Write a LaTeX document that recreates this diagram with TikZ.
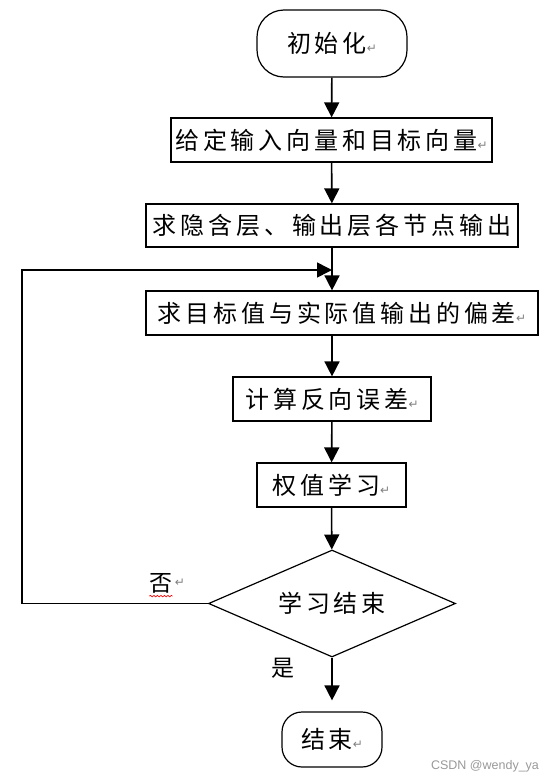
\documentclass[tikz,border=0pt]{standalone}
\usepackage{fontspec}
\setmainfont{Noto Sans CJK SC}
\newfontfamily\cjkspaced{Noto Sans CJK SC}[LetterSpace=16]
\newfontfamily\markfont{DejaVu Sans}
\newfontfamily\wmfont{Liberation Sans}
\usepackage{tikz}
\usetikzlibrary{arrows.meta,shapes.geometric,decorations.pathmorphing}
\newcommand{\pmark}{{\markfont\fontsize{12bp}{12bp}\selectfont\color{gray}↵}}

\begin{document}
\begin{tikzpicture}[
  box/.style={draw,line width=1.2bp,rectangle,inner sep=0pt,font=\cjkspaced\fontsize{24bp}{26bp}\selectfont},
  term/.style={box},
  decision/.style={draw,line width=1.2bp,diamond,aspect=2.31,inner sep=0pt,minimum width=247bp,minimum height=107bp,font=\cjkspaced\fontsize{24bp}{26bp}\selectfont},
  tag/.style={inner sep=0pt,font=\fontsize{23bp}{25bp}\selectfont},
  flow/.style={-{Triangle[width=15bp,length=15bp]},line width=1.6bp}
]
\useasboundingbox (0bp,0bp) rectangle (555bp,-783bp);

\node (init) at (332bp,-43.5bp)[term,minimum width=150bp,minimum height=67bp,rounded corners=27bp] {初始化\pmark};
\node (given) at (331.5bp,-140bp)[box,minimum width=321bp,minimum height=44bp] {给定输入向量和目标向量\pmark};
\node (hidden) at (332bp,-225.5bp)[box,minimum width=372bp,minimum height=43bp] {求隐含层、输出层各节点输出};
\node (bias) at (342bp,-313bp)[box,minimum width=392bp,minimum height=44bp] {求目标值与实际值输出的偏差\pmark};
\node (calc) at (332bp,-399bp)[box,minimum width=198bp,minimum height=44bp] {计算反向误差\pmark};
\node (learn) at (331.5bp,-485bp)[box,minimum width=149bp,minimum height=44bp] {权值学习\pmark};
\node (done) at (332bp,-603.5bp)[decision] {学习结束};
\node (end) at (332bp,-739.5bp)[term,minimum width=100bp,minimum height=55bp,rounded corners=20bp] {结束\pmark};
\node (no) at (161bp,-583bp)[tag] {否};
\node (nomark) at (no.east)[anchor=west,inner sep=2bp] {\pmark};
\node (yes) at (283bp,-668bp)[tag] {是};
\node (wm) at (485bp,-766bp)[font=\wmfont\fontsize{12.5bp}{14bp}\selectfont,text=gray!80] {CSDN @wendy\_ya};
\coordinate (loopL) at (22bp,-603.5bp);
\coordinate (loopJ) at (332bp,-270bp);

\draw [flow] (init) -- (given);
\draw [flow] (given) -- (hidden);
\draw [flow] (hidden.south) -- (hidden.south |- bias.north);
\draw [flow] (calc.north |- bias.south) -- (calc.north);
\draw [flow] (calc) -- (learn);
\draw [flow] (learn) -- (done);
\draw [flow,shorten >=11bp] (done) -- (end);
\draw [flow] (done.west) -- (loopL) |- (loopJ);
\draw [red,line width=0.6bp,decorate,decoration={snake,amplitude=0.8bp,segment length=3.5bp}] ([yshift=-3bp]no.south west) -- ([yshift=-3bp]no.south east);
\end{tikzpicture}
\end{document}
